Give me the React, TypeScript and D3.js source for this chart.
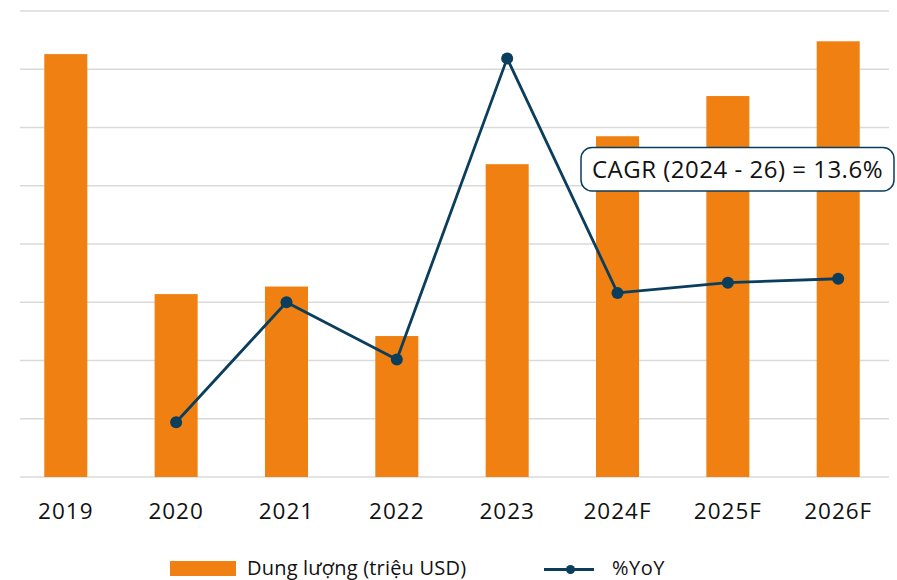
import React from "react";
import * as d3 from "d3";

const categories = ["2019", "2020", "2021", "2022", "2023", "2024F", "2025F", "2026F"];
const capacity = [726, 314, 327, 242, 537, 585, 654, 748];
const yoyCategories = ["2020", "2021", "2022", "2023", "2024F", "2025F", "2026F"];
const yoy = [-61.8, 0, -29.5, 125.6, 4.8, 10.1, 12.1];
const primaryTicks = [0, 100, 200, 300, 400, 500, 600, 700, 800];
const seriesNames = ["Dung lượng (triệu USD)", "%YoY"];
const cagrLabel = "CAGR (2024 - 26) = 13.6%";

const W = 897;
const H = 580;
const FONT = "'Open Sans', 'DejaVu Sans', sans-serif";
const ORANGE = "#EF8011";
const NAVY = "#0B3D5C";

export default function App() {
  const x = d3
    .scaleBand<string>()
    .domain(categories)
    .range([20, 884])
    .paddingInner(0.61)
    .paddingOuter(0.22);
  const y = d3.scaleLinear().domain([0, 800]).range([477, 11]);
  const y2 = d3.scaleLinear().domain([-90, 150]).range([477, 11]);

  const linePts: [number, number][] = yoyCategories.map((c, i) => [
    (x(c) as number) + x.bandwidth() / 2,
    y2(yoy[i]),
  ]);
  const line = d3.line()(linePts) as string;

  return (
    <svg
      width={W}
      height={H}
      style={{ position: "absolute", left: 0, top: 0, background: "#fff" }}
      fontFamily={FONT}
    >
      {primaryTicks.map((t) => (
        <line
          key={t}
          x1={20}
          x2={889}
          y1={y(t)}
          y2={y(t)}
          stroke="#DADADA"
          strokeWidth={1.3}
        />
      ))}
      {categories.map((c, i) => (
        <rect
          key={c}
          x={x(c)}
          y={y(capacity[i])}
          width={x.bandwidth()}
          height={y(0) - y(capacity[i])}
          fill={ORANGE}
        />
      ))}
      <path d={line} fill="none" stroke={NAVY} strokeWidth={2.8} strokeLinejoin="round" />
      {linePts.map((p, i) => (
        <circle key={i} cx={p[0]} cy={p[1]} r={6} fill={NAVY} />
      ))}
      {categories.map((c) => (
        <text
          key={c}
          x={(x(c) as number) + x.bandwidth() / 2}
          y={519}
          textAnchor="middle"
          fontSize={22.5}
          letterSpacing={1}
          fill="#111"
        >
          {c}
        </text>
      ))}
      <rect
        x={581}
        y={147.5}
        width={313}
        height={43.5}
        rx={11}
        fill="#fff"
        stroke={NAVY}
        strokeWidth={1.5}
      />
      <text x={737.5} y={177.5} textAnchor="middle" fontSize={24} letterSpacing={0.5} fill="#111">
        {cagrLabel}
      </text>
      <rect x={170} y={561} width={66} height={15} fill={ORANGE} />
      <text x={247} y={575} fontSize={20} letterSpacing={0.2} fill="#111">
        {seriesNames[0]}
      </text>
      <line x1={544} x2={594} y1={569.5} y2={569.5} stroke={NAVY} strokeWidth={3} />
      <circle cx={570.5} cy={569.5} r={4.5} fill={NAVY} />
      <text x={612} y={575} fontSize={20} letterSpacing={0.5} fill="#111">
        {seriesNames[1]}
      </text>
    </svg>
  );
}
